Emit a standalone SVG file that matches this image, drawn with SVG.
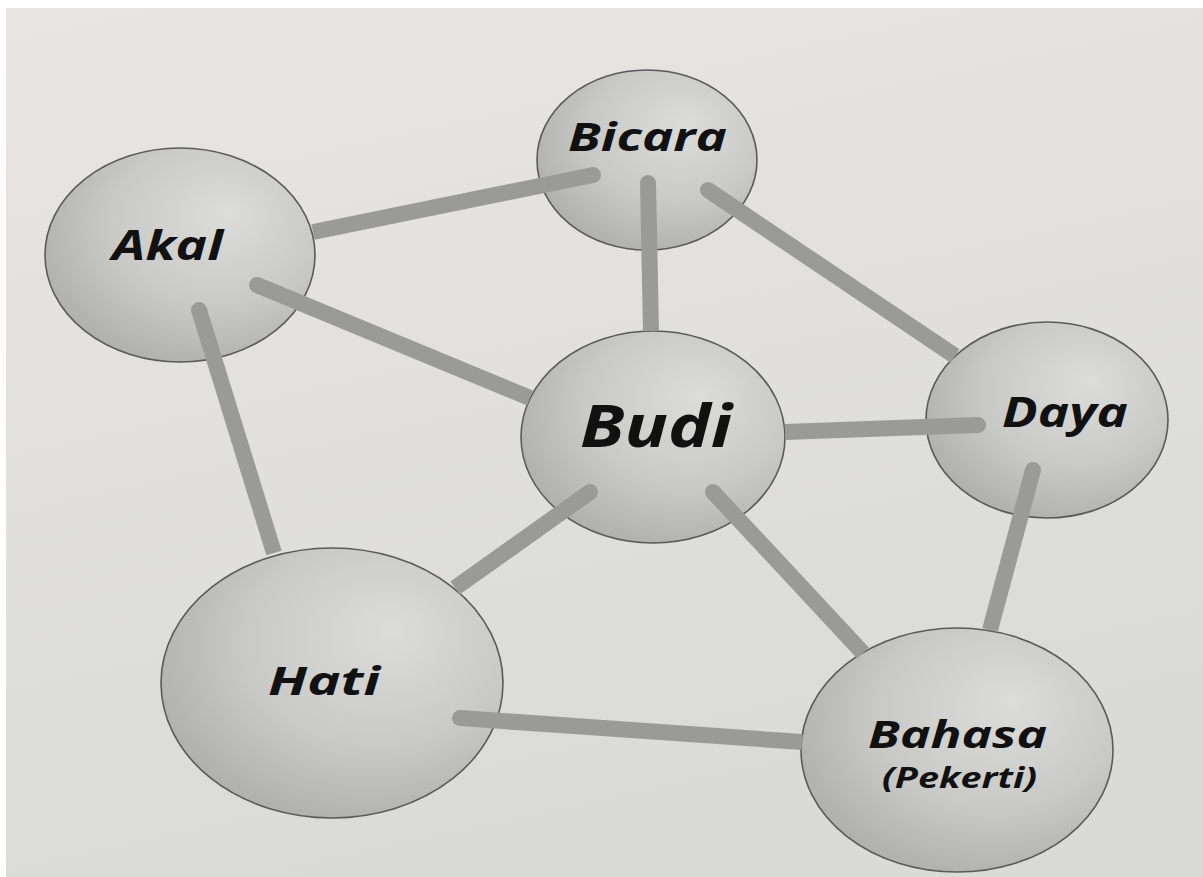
<svg xmlns="http://www.w3.org/2000/svg" width="1203" height="877" viewBox="0 0 1203 877">
<defs>
<linearGradient id="bg" x1="0" y1="0" x2="0.3" y2="1">
<stop offset="0" stop-color="#e7e6e3"/>
<stop offset="1" stop-color="#dadad8"/>
</linearGradient>
<radialGradient id="sphere" cx="0.6" cy="0.38" r="0.65" fx="0.68" fy="0.3">
<stop offset="0" stop-color="#dcdcda"/>
<stop offset="0.6" stop-color="#c9c9c7"/>
<stop offset="1" stop-color="#b0b0ae"/>
</radialGradient>
<marker id="cap" viewBox="-1 -1 2 2" markerWidth="1" markerHeight="1" markerUnits="strokeWidth" orient="auto">
<circle cx="0" cy="0" r="1" fill="#9a9a98"/>
</marker>
</defs>
<style>
.node ellipse{fill:url(#sphere);stroke:#5a5a5a;stroke-width:1.6}
.lbl{font-family:"Open Sans","DejaVu Sans",sans-serif;font-weight:700;font-style:italic;fill:#111;text-anchor:middle}
#connectors line{stroke:#9a9a98;stroke-width:16;stroke-linecap:butt;marker-start:url(#cap)}
</style>
<rect width="1203" height="877" fill="#ffffff"/>
<rect x="6" y="8" width="1197" height="869" fill="url(#bg)"/>
<g id="akal" class="node">
<ellipse cx="180" cy="255" rx="135" ry="107"/>
<text class="lbl" x="167.5" y="260" font-size="42" textLength="111" lengthAdjust="spacingAndGlyphs">Akal</text>
</g>
<g id="bicara" class="node">
<ellipse cx="647" cy="160" rx="110" ry="90"/>
<text class="lbl" x="647.5" y="151" font-size="40" textLength="159" lengthAdjust="spacingAndGlyphs">Bicara</text>
</g>
<g id="budi" class="node">
<ellipse cx="653" cy="437" rx="132" ry="106"/>
<text class="lbl" x="656" y="447" font-size="59" textLength="152" lengthAdjust="spacingAndGlyphs">Budi</text>
</g>
<g id="daya" class="node">
<ellipse cx="1047" cy="420" rx="121" ry="98"/>
<text class="lbl" x="1065" y="427" font-size="42" textLength="126" lengthAdjust="spacingAndGlyphs">Daya</text>
</g>
<g id="hati" class="node">
<ellipse cx="332" cy="683" rx="171" ry="135"/>
<text class="lbl" x="324" y="695" font-size="39" textLength="112" lengthAdjust="spacingAndGlyphs">Hati</text>
</g>
<g id="bahasa" class="node">
<ellipse cx="957" cy="750" rx="156" ry="122"/>
<text class="lbl" x="957.5" y="748" font-size="38" textLength="179" lengthAdjust="spacingAndGlyphs">Bahasa</text>
<text class="lbl" x="959.5" y="788" font-size="28" textLength="155" lengthAdjust="spacingAndGlyphs">(Pekerti)</text>
</g>
<g id="connectors">
<line x1="593" y1="175" x2="313" y2="232"/>
<line x1="648" y1="183" x2="651" y2="331"/>
<line x1="708" y1="190" x2="955" y2="356"/>
<line x1="257" y1="285" x2="530" y2="398"/>
<line x1="199" y1="310" x2="274" y2="553"/>
<line x1="978" y1="425" x2="785" y2="432"/>
<line x1="590" y1="492" x2="455" y2="588"/>
<line x1="713" y1="492" x2="863" y2="653"/>
<line x1="1033" y1="470" x2="990" y2="630"/>
<line x1="460" y1="718" x2="802" y2="742"/>
</g>
</svg>
